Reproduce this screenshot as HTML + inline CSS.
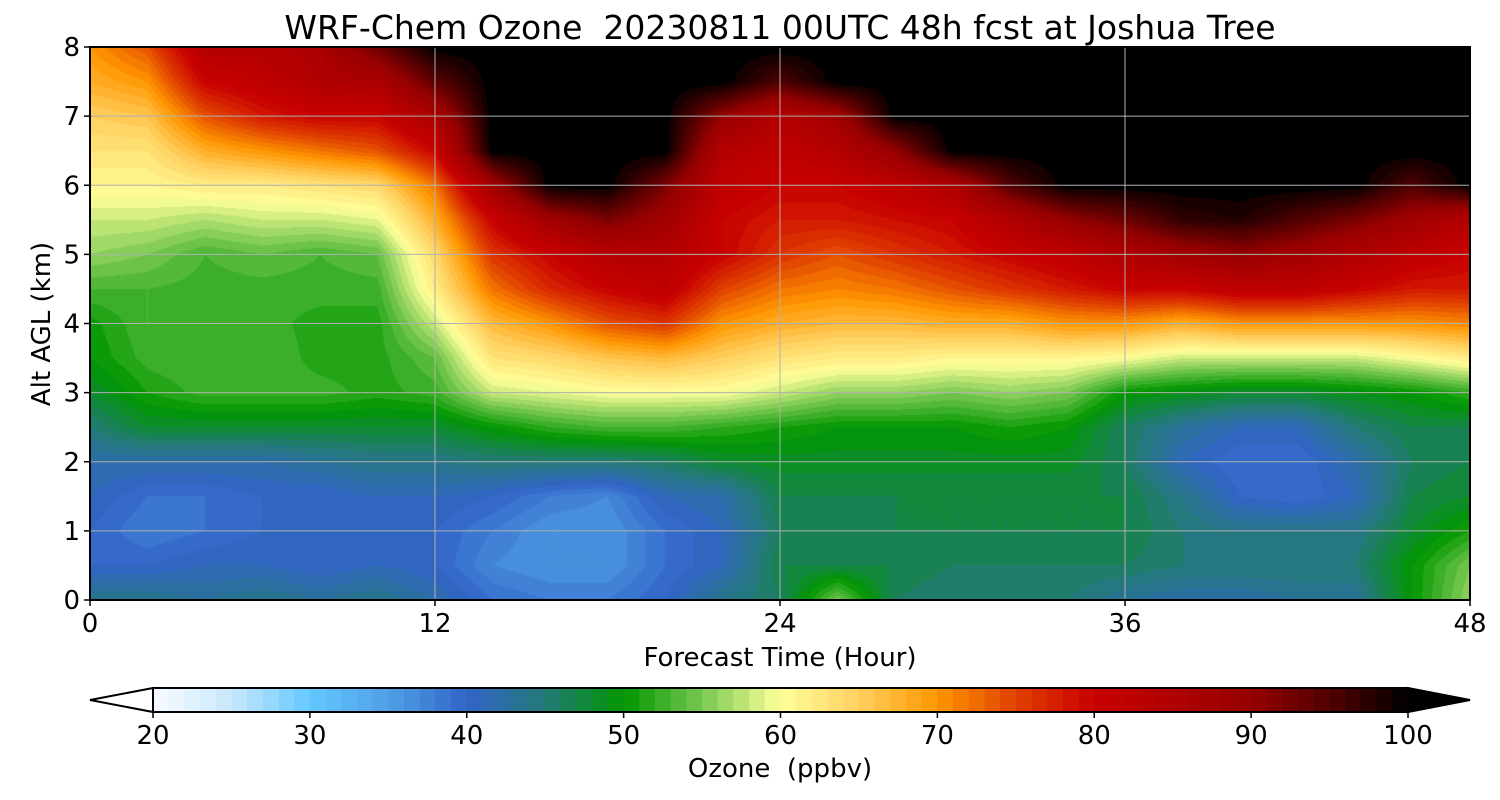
<!DOCTYPE html>
<html><head><meta charset="utf-8"><style>
body{margin:0;background:#fff;font-family:"DejaVu Sans","Liberation Sans",sans-serif;}
#wrap{position:relative;width:1500px;height:800px;overflow:hidden;}
.t{position:absolute;color:#000;white-space:nowrap;}
</style></head><body>
<div id="wrap">
<div class="t" style="left:0;width:1560px;top:8px;text-align:center;font-size:33px;">WRF-Chem Ozone&nbsp; 20230811 00UTC 48h fcst at Joshua Tree</div>
<canvas id="cv" width="1380" height="553" style="position:absolute;left:90px;top:47px;"></canvas>
<svg id="sv" width="1500" height="800" style="position:absolute;left:0;top:0;"></svg>
</div>
<script>
const hours=[0,2,4,6,8,10,12,14,16,18,20,22,24,26,28,30,32,34,36,38,40,42,44,46,48];
const alts=[0,0.5,1,1.5,2,2.5,3,3.5,4,4.5,5,5.5,6,6.5,7,7.5,8];
const ozone=[
[44,40,40,41,42,45,48,50,50.5,53,56,58,61,63,65,68,70],
[44,40,38,39,42,48,51,52.5,53,53,55,58,61,63,66,70,74],
[43,41,39,39,42,48,52.5,53,52.5,52.5,53,57,62,68,74,80,84],
[44,41,40,40,42,48,52.5,53,52.5,52.5,54,58,62,70,78,82,84],
[43,40,40,40,43,48,52.5,51.5,51.5,52.5,53,58,63,72,80,85,86],
[44,41,40,41,44,48,51.5,51.5,51.5,52.5,54,59,64,74,80,86,93],
[42,40,40,41,44,48,52.5,54,58,62,64,68,72,80,86,94,100],
[39,37,38,40,45,50,58,63,67,72,76,80,88,100,100,100,100],
[38,36,36,38,45,52,59,64,70,77,80,88,100,100,100,100,100],
[38,36,36,37,45,53,60,66,74,80,84,92,100,100,100,100,100],
[40,39,39,41,46,53,60,67,76,82,84,88,92,100,100,100,100],
[44,41,41,42,48,52,60,65,70,75,80,80,82,84,90,100,100],
[46,47,46,47,48.5,51,58,63,68,72,76,78,80,82,84,95,100],
[55,47,46,47,48.5,50,56,62,67,71,74,78,80,84,88,100,100],
[46,47,47,47,48.5,50,56,62,67,72,76,79,82,90,100,100,100],
[45,46,47,47,48.5,50,55,61,68,74,78,80,86,100,100,100,100],
[45,46,47,47,48.5,51,56,61,68,76,80,85,95,100,100,100,100],
[45,46,47,47,48.5,50,55,61,70,78,82,90,100,100,100,100,100],
[43,46,47,47,46,46,50,60,70,80,85,93,100,100,100,100,100],
[42,45,45,44,41,43,49,58,68,80,88,97,100,100,100,100,100],
[42,45,44,40,39,41,48,58,70,82,90,98,100,100,100,100,100],
[43,45,44,39,39,41,48,58,70,82,88,95,100,100,100,100,100],
[43,45,44,41,42,45,49,58,70,80,85,92,100,100,100,100,100],
[50,50,48,47,46,47,50,60,70,78,82,88,95,100,100,100,100],
[56,55,51,48,47,47,52,62,71,78,80,84,100,100,100,100,100]];
const cbTicks=[20,30,40,50,60,70,80,90,100];
const xTicks=[0,12,24,36,48];
const yTicks=[0,1,2,3,4,5,6,7,8];
const anchors=[[20,[248,251,255]],[25,[200,232,252]],[30,[100,200,255]],[35,[80,160,230]],[40,[50,100,200]],[45,[36,122,120]],[50,[0,150,0]],[55,[120,200,80]],[60,[255,255,154]],[65,[255,208,96]],[70,[255,150,0]],[75,[224,64,0]],[80,[200,0,0]],[90,[150,0,0]],[95,[80,0,0]],[100,[0,0,0]]];
function cmap(v){v=Math.max(20,Math.min(100,v));for(let i=0;i<anchors.length-1;i++){const a=anchors[i],b=anchors[i+1];if(v<=b[0]){const f=(v-a[0])/(b[0]-a[0]);return a[1].map((c,k)=>Math.round(c+(b[1][k]-c)*f));}}return [0,0,0];}
const X0=90,X1=1470,Y0=600,Y1=47;
const xs=h=>X0+(h/48)*(X1-X0), ys=a=>Y0-(a/8)*(Y0-Y1);
const cv=document.getElementById('cv'),ctx=cv.getContext('2d');const W=cv.width,H=cv.height;
const img=ctx.createImageData(W,H);
const lut=[];for(let l=0;l<=100;l++)lut[l]=cmap(l+0.5);
for(let py=0;py<H;py++){const a=(H-py-0.5)/H*8;let j=Math.min(alts.length-2,Math.floor(a/0.5));const fa=(a-alts[j])/0.5;
for(let px=0;px<W;px++){const h=(px+0.5)/W*48;let i=Math.min(hours.length-2,Math.floor(h/2));const fh=(h-hours[i])/2;
const v=ozone[i][j]*(1-fh)*(1-fa)+ozone[i+1][j]*fh*(1-fa)+ozone[i][j+1]*(1-fh)*fa+ozone[i+1][j+1]*fh*fa;
let l=Math.floor(v);const c=v>=99?[0,0,0]:lut[Math.max(0,l)];const o=(py*W+px)*4;img.data[o]=c[0];img.data[o+1]=c[1];img.data[o+2]=c[2];img.data[o+3]=255;}}
ctx.putImageData(img,0,0);
const sv=document.getElementById('sv');const NS='http://www.w3.org/2000/svg';const FF='DejaVu Sans, Liberation Sans, sans-serif';
function mk(tag,at,parent){const e=document.createElementNS(NS,tag);for(const k in at)e.setAttribute(k,at[k]);(parent||sv).appendChild(e);return e;}
xTicks.forEach(h=>{const x=xs(h);
const g=mk('line',{x1:x,x2:x,y1:Y1,y2:Y0,stroke:'#b0b0b0','stroke-width':1});


const tk=mk('line',{x1:x,x2:x,y1:Y0,y2:Y0+6,stroke:'#000','stroke-width':1.5});


const t=mk('text',{x:x,y:Y0+32,'text-anchor':'middle','font-size':26,'font-family':FF});t.textContent=h;

});
yTicks.forEach(a=>{const y=ys(a);
const g=mk('line',{x1:X0,x2:X1,y1:y,y2:y,stroke:'#b0b0b0','stroke-width':1});


const tk=mk('line',{x1:X0-6,x2:X0,y1:y,y2:y,stroke:'#000','stroke-width':1.5});


const t=mk('text',{x:X0-10,y:y+9,'text-anchor':'end','font-size':26,'font-family':FF});t.textContent=a;

});
const fr=mk('rect',{x:X0,y:Y1,width:X1-X0,height:Y0-Y1,fill:'none',stroke:'#000','stroke-width':2});


const xl=mk('text',{x:780,y:666,'text-anchor':'middle','font-size':26,'font-family':FF});xl.textContent='Forecast Time (Hour)';


const yl=mk('text',{x:0,y:0,'text-anchor':'middle','font-size':26,'font-family':FF,transform:'translate(50,324) rotate(-90)'});yl.textContent='Alt AGL (km)';


const C0=153,C1=1408,CT=688,CB=712;const cx=v=>C0+(v-20)/80*(C1-C0);
for(let l=20;l<100;l++){const c=cmap(l+0.5);const r=mk('rect',{x:cx(l),y:CT,width:cx(l+1)-cx(l)+0.6,height:CB-CT,fill:`rgb(${c})`});

}
const lowTri=mk('polygon',{points:`${C0},${CT} 90,${(CT+CB)/2} ${C0},${CB}`,fill:'#fff',stroke:'#000','stroke-width':2});


const hiTri=mk('polygon',{points:`${C1},${CT} 1470,${(CT+CB)/2} ${C1},${CB}`,fill:'#000',stroke:'#000','stroke-width':2});


const cbf=mk('rect',{x:C0,y:CT,width:C1-C0,height:CB-CT,fill:'none',stroke:'#000','stroke-width':2});


cbTicks.forEach(v=>{const x=cx(v);
const tk=mk('line',{x1:x,x2:x,y1:CB,y2:CB+6,stroke:'#000','stroke-width':1.5});


const t=mk('text',{x:x,y:CB+32,'text-anchor':'middle','font-size':26,'font-family':FF});t.textContent=v;

});
const cl=mk('text',{x:780,y:777,'text-anchor':'middle','font-size':26,'font-family':FF});cl.textContent='Ozone\u00a0 (ppbv)';


</script>
</body></html>
